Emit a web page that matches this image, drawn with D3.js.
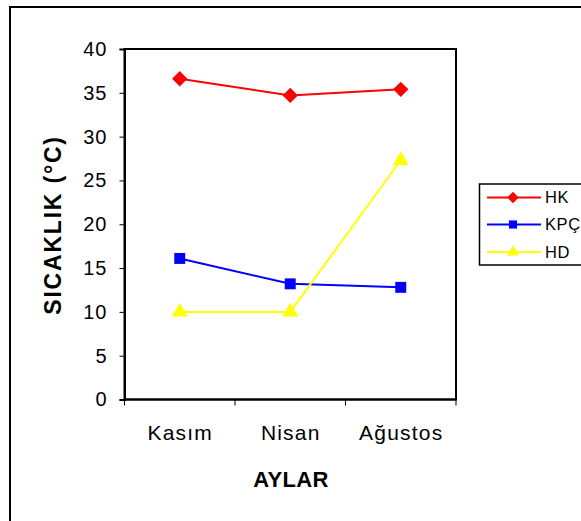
<!DOCTYPE html>
<html>
<head>
<meta charset="utf-8">
<script src="https://cdn.jsdelivr.net/npm/d3@7"></script>
<style>
  html, body { margin: 0; padding: 0; background: #fff; }
  svg { display: block; font-family: "Liberation Sans", Arial, sans-serif; }
</style>
</head>
<body>
<svg id="chart" width="581" height="521"></svg>
<script>
// Monthly temperatures for three sites
const months = ["Kasım", "Nisan", "Ağustos"];
const seriesNames = ["HK", "KPÇ", "HD"];
const hkValues = [36.6, 34.7, 35.4];
const kpcValues = [16.1, 13.2, 12.8];
const hdValues = [10.0, 10.0, 27.3];
const yTicks = [0, 5, 10, 15, 20, 25, 30, 35, 40];
const seriesColors = ["#ff0000", "#0000ff", "#ffff00"];
const seriesSymbols = [d3.symbolDiamond2, d3.symbolSquare, d3.symbolTriangle];

const series = seriesNames.map((name, i) => ({
  name,
  values: [hkValues, kpcValues, hdValues][i],
  color: seriesColors[i],
  symbol: seriesSymbols[i]
}));

const svg = d3.select("#chart");

// Outer chart frame
svg.append("rect")
  .attr("x", 10).attr("y", 7)
  .attr("width", 600).attr("height", 540)
  .attr("fill", "none").attr("stroke", "#000").attr("stroke-width", 2);

const plot = { left: 124.5, right: 456, top: 49, bottom: 399.5 };

const x = d3.scaleBand().domain(months).range([plot.left, plot.right]);
const y = d3.scaleLinear().domain([0, 40]).range([plot.bottom, plot.top]);

// Plot area box
svg.append("rect")
  .attr("x", plot.left).attr("y", plot.top)
  .attr("width", plot.right - plot.left).attr("height", plot.bottom - plot.top)
  .attr("fill", "none").attr("stroke", "#000").attr("stroke-width", 2);

// Y axis
const yAxis = svg.append("g")
  .attr("transform", `translate(${plot.left},0)`)
  .call(d3.axisLeft(y).tickValues(yTicks).tickSize(5).tickPadding(12));
yAxis.select(".domain").attr("stroke-width", 2);
yAxis.selectAll(".tick line").attr("stroke-width", 1);
yAxis.selectAll(".tick text")
  .attr("font-size", 20).attr("fill", "#000")
  .attr("letter-spacing", 1)
  .attr("font-family", "Liberation Sans, Arial, sans-serif");

// X axis: ticks on band boundaries, labels at band centres
const xAxis = svg.append("g")
  .attr("transform", `translate(0,${plot.bottom})`);
xAxis.append("line")
  .attr("x1", plot.left).attr("x2", plot.right)
  .attr("stroke", "#000").attr("stroke-width", 2);
const boundaries = months.map(m => x(m)).concat([x(months[months.length - 1]) + x.bandwidth()]);
xAxis.selectAll("line.tick")
  .data(boundaries)
  .join("line")
  .attr("class", "tick")
  .attr("x1", d => d).attr("x2", d => d)
  .attr("y1", 0).attr("y2", 6)
  .attr("stroke", "#000").attr("stroke-width", 1);
xAxis.selectAll("text")
  .data(months)
  .join("text")
  .attr("x", d => x(d) + x.bandwidth() / 2 + 0.5)
  .attr("y", 40.5)
  .attr("text-anchor", "middle")
  .attr("font-size", 21)
  .attr("letter-spacing", 1.2)
  .text(d => d);

// Axis titles
svg.append("text")
  .attr("x", 291).attr("y", 487)
  .attr("text-anchor", "middle")
  .attr("font-size", 22).attr("font-weight", "bold")
  .attr("letter-spacing", 0.3)
  .text("AYLAR");

svg.append("text")
  .attr("transform", "translate(61,225) rotate(-90)")
  .attr("text-anchor", "middle")
  .attr("font-size", 23).attr("font-weight", "bold")
  .attr("letter-spacing", 1.8)
  .text("SICAKLIK (°C)");

// Series lines and markers
const line = d3.line()
  .x((d, i) => x(months[i]) + x.bandwidth() / 2)
  .y(d => y(d));

const sizes = { HK: 150, "KPÇ": 120, HD: 110 };

series.forEach(s => {
  const g = svg.append("g");
  g.append("path")
    .attr("d", line(s.values))
    .attr("fill", "none")
    .attr("stroke", s.color)
    .attr("stroke-width", 2);
  g.selectAll("path.marker")
    .data(s.values)
    .join("path")
    .attr("class", "marker")
    .attr("transform", (d, i) => `translate(${x(months[i]) + x.bandwidth() / 2},${y(d)})`)
    .attr("d", d3.symbol().type(s.symbol).size(sizes[s.name]))
    .attr("fill", s.color);
});

// Legend
const legend = svg.append("g");
legend.append("rect")
  .attr("x", 479.5).attr("y", 184)
  .attr("width", 140).attr("height", 81)
  .attr("fill", "#fff").attr("stroke", "#000").attr("stroke-width", 1.5);
const legendRows = [197.5, 224.5, 252];
series.forEach((s, i) => {
  const ly = legendRows[i];
  legend.append("line")
    .attr("x1", 487).attr("x2", 541)
    .attr("y1", ly).attr("y2", ly)
    .attr("stroke", s.color).attr("stroke-width", 2);
  legend.append("path")
    .attr("transform", `translate(513,${ly})`)
    .attr("d", d3.symbol().type(s.symbol).size(sizes[s.name] * 0.55))
    .attr("fill", s.color);
  legend.append("text")
    .attr("x", 545).attr("y", ly + 5.5)
    .attr("font-size", 16.5)
    .attr("letter-spacing", 0.6)
    .text(s.name);
});
</script>
</body>
</html>
